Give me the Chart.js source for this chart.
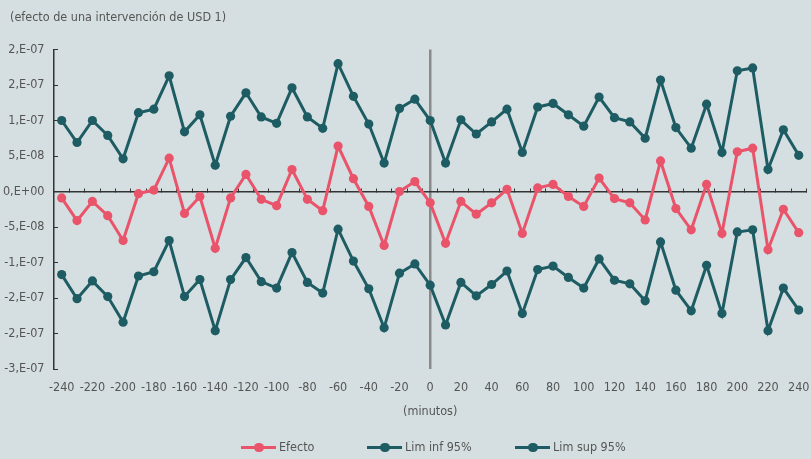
<!DOCTYPE html>
<html>
<head>
<meta charset="utf-8">
<script src="https://cdn.jsdelivr.net/npm/chart.js@4.4.1/dist/chart.umd.min.js"></script>
<style>
  html, body { margin: 0; padding: 0; background: #d5dfe1; }
  #wrap { position: relative; width: 811px; height: 459px; overflow: hidden; }
  .txt { font-family: 'Liberation Sans Narrow', 'DejaVu Sans Condensed', sans-serif; font-size: 12.5px; color: #555; }
  #title { position: absolute; left: 10px; top: 9px; line-height: 16px; white-space: nowrap; }
  #legend { position: absolute; left: 0; top: 438px; width: 811px; height: 18px; }
  #legend .item { position: absolute; top: 0; height: 18px; line-height: 18px; white-space: nowrap; }
  #legend .mark { position: relative; display: inline-block; width: 35px; height: 18px; margin-right: 3px; vertical-align: top; }
  #legend .mark::before { content: ''; position: absolute; left: 0; top: 8px; width: 35px; height: 2.5px; background: var(--c); }
  #legend .mark::after { content: ''; position: absolute; left: 13px; top: 4.5px; width: 9.5px; height: 9.5px; border-radius: 50%; background: var(--c); }
</style>
</head>
<body>
<div id="wrap">
  <canvas id="chart" width="811" height="459"></canvas>
  <div id="title" class="txt">(efecto de una intervención de USD 1)</div>
  <div id="legend" class="txt"></div>
</div>
<script>
// categories (minutes around the intervention)
const minutos = ['-240', '-230', '-220', '-210', '-200', '-190', '-180', '-170', '-160', '-150',
                 '-140', '-130', '-120', '-110', '-100', '-90', '-80', '-70', '-60', '-50',
                 '-40', '-30', '-20', '-10', '0', '10', '20', '30', '40', '50',
                 '60', '70', '80', '90', '100', '110', '120', '130', '140', '150',
                 '160', '170', '180', '190', '200', '210', '220', '230', '240'];

const efecto = [-0.9e-8, -4.1e-8, -1.4e-8, -3.4e-8, -6.9e-8, -0.3e-8, 0.2e-8, 4.7e-8, -3.1e-8, -0.7e-8,
                -8.0e-8, -0.9e-8, 2.4e-8, -1.1e-8, -2.0e-8, 3.1e-8, -1.1e-8, -2.7e-8, 6.4e-8, 1.8e-8,
                -2.1e-8, -7.6e-8, 0.0e-8, 1.4e-8, -1.6e-8, -7.3e-8, -1.4e-8, -3.2e-8, -1.6e-8, 0.3e-8,
                -5.9e-8, 0.5e-8, 1.0e-8, -0.7e-8, -2.1e-8, 1.9e-8, -1.0e-8, -1.6e-8, -4.0e-8, 4.3e-8,
                -2.4e-8, -5.4e-8, 1.0e-8, -5.9e-8, 5.6e-8, 6.1e-8, -8.2e-8, -2.5e-8, -5.8e-8];

const limInf = [-11.7e-8, -15.1e-8, -12.6e-8, -14.8e-8, -18.4e-8, -11.9e-8, -11.3e-8, -6.9e-8, -14.8e-8, -12.4e-8,
                -19.6e-8, -12.4e-8, -9.3e-8, -12.7e-8, -13.6e-8, -8.6e-8, -12.8e-8, -14.3e-8, -5.3e-8, -9.8e-8,
                -13.7e-8, -19.2e-8, -11.5e-8, -10.2e-8, -13.2e-8, -18.8e-8, -12.8e-8, -14.7e-8, -13.1e-8, -11.2e-8,
                -17.2e-8, -11.0e-8, -10.5e-8, -12.1e-8, -13.6e-8, -9.5e-8, -12.5e-8, -13.0e-8, -15.4e-8, -7.1e-8,
                -13.9e-8, -16.8e-8, -10.4e-8, -17.2e-8, -5.7e-8, -5.4e-8, -19.6e-8, -13.6e-8, -16.7e-8];

const limSup = [10.0e-8, 6.9e-8, 10.0e-8, 7.9e-8, 4.6e-8, 11.1e-8, 11.6e-8, 16.3e-8, 8.4e-8, 10.8e-8,
                3.7e-8, 10.6e-8, 13.9e-8, 10.5e-8, 9.6e-8, 14.6e-8, 10.5e-8, 8.9e-8, 18.0e-8, 13.4e-8,
                9.5e-8, 4.0e-8, 11.7e-8, 13.0e-8, 10.0e-8, 4.0e-8, 10.1e-8, 8.1e-8, 9.8e-8, 11.6e-8,
                5.5e-8, 11.9e-8, 12.4e-8, 10.8e-8, 9.2e-8, 13.3e-8, 10.4e-8, 9.8e-8, 7.5e-8, 15.7e-8,
                9.0e-8, 6.1e-8, 12.3e-8, 5.5e-8, 17.0e-8, 17.4e-8, 3.1e-8, 8.7e-8, 5.1e-8];

// y tick labels, bottom (-2.5e-7) to top (2e-7), as printed in the source
const yTickLabels = ['-3,E-07', '-2,E-07', '-2,E-07', '-1,E-07', '-5,E-08',
                     '0,E+00', '5,E-08', '1,E-07', '2,E-07', '2,E-07'];

const THEME = {
    red: '#e9546b',
    teal: '#1e5c63',
    axis: '#333333',
    text: '#555555',
    zeroLine: '#8a8a8a'
};
const FONT = "'Liberation Sans Narrow', 'DejaVu Sans Condensed', sans-serif";
const TICK_FONT = { family: FONT, size: 12.5 };

function series(label, data, color) {
    return {
        label: label,
        data: data,
        borderColor: color,
        backgroundColor: color,
        borderWidth: 3,
        pointRadius: 4.6,
        pointBorderWidth: 0,
        pointBackgroundColor: color,
        tension: 0,
        fill: false
    };
}

const chart = new Chart(document.getElementById('chart'), {
    type: 'line',
    data: {
        labels: minutos,
        datasets: [
            series('Efecto', efecto, THEME.red),
            series('Lim inf 95%', limInf, THEME.teal),
            series('Lim sup 95%', limSup, THEME.teal)
        ]
    },
    options: {
        responsive: false,
        animation: false,
        events: [],
        layout: { padding: { left: 0, right: -2, top: 49.5, bottom: 39 } },
        scales: {
            // axis line crossing at zero with small upward tick marks
            x: {
                type: 'category',
                position: { y: 0 },
                offset: true,
                grid: { offset: true, drawOnChartArea: false, drawTicks: true, tickLength: -4, color: THEME.axis, lineWidth: 1 },
                border: { display: true, color: THEME.axis, width: 1.5 },
                ticks: { display: false, autoSkip: false }
            },
            // bottom labels + vertical marker at minute 0
            x2: {
                type: 'category',
                position: 'bottom',
                offset: true,
                grid: {
                    offset: false,
                    drawTicks: false,
                    lineWidth: 2.5,
                    color: c => minutos[c.index] === '0' ? THEME.zeroLine : 'rgba(0,0,0,0)'
                },
                border: { display: false },
                ticks: {
                    autoSkip: false,
                    maxRotation: 0,
                    padding: 11,
                    color: THEME.text,
                    font: TICK_FONT,
                    callback: (v, i) => (i % 2 === 0 ? minutos[i] : '')
                },
                title: {
                    display: true,
                    text: '(minutos)',
                    color: THEME.text,
                    font: TICK_FONT,
                    padding: { top: 6, bottom: 1 }
                },
                afterFit: s => { s.paddingLeft = 0; s.paddingRight = 0; s.height = 51; }
            },
            y: {
                min: -2.5e-7,
                max: 2e-7,
                grid: { drawOnChartArea: false, drawTicks: true, tickLength: -4, color: THEME.axis },
                border: { color: THEME.axis, width: 1.5 },
                ticks: {
                    stepSize: 5e-8,
                    padding: 13.5,
                    color: THEME.text,
                    font: TICK_FONT,
                    callback: v => yTickLabels[Math.round(v / 5e-8) + 5]
                },
                afterFit: s => { s.width = 54; }
            }
        },
        plugins: {
            legend: { display: false },
            tooltip: { enabled: false },
            title: { display: false }
        }
    }
});

// HTML legend built from the datasets (line + dot marker)
const legendLeft = [241, 367, 515];
const legendBox = document.getElementById('legend');
chart.data.datasets.forEach((ds, i) => {
    const item = document.createElement('div');
    item.className = 'item';
    item.style.left = legendLeft[i] + 'px';
    const mark = document.createElement('span');
    mark.className = 'mark';
    mark.style.setProperty('--c', ds.borderColor);
    item.appendChild(mark);
    item.appendChild(document.createTextNode(ds.label));
    legendBox.appendChild(item);
});
</script>
</body>
</html>
